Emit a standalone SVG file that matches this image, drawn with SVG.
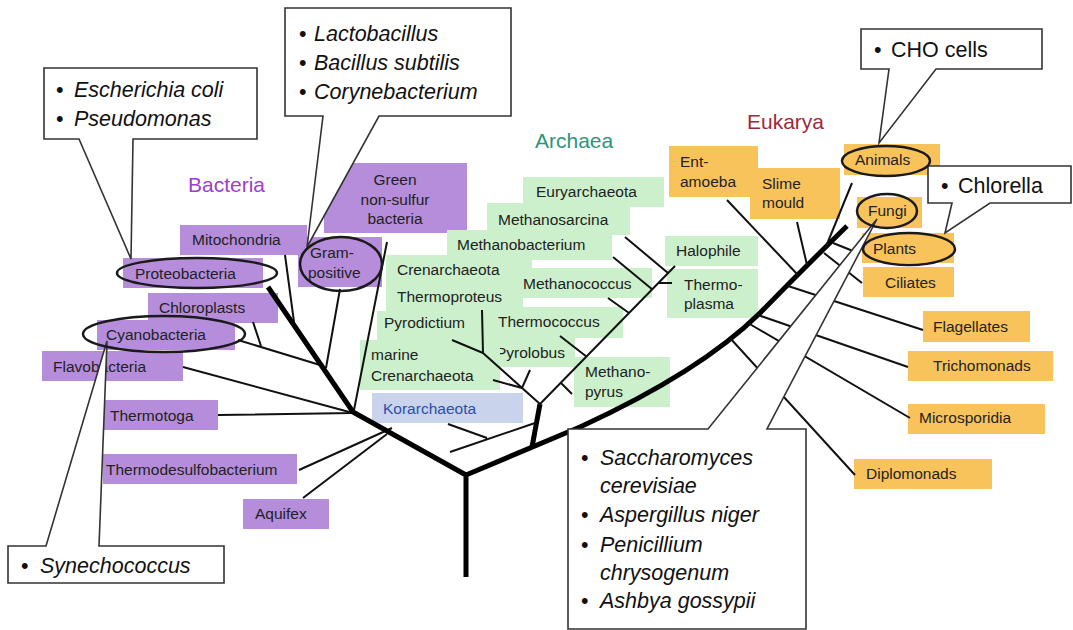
<svg xmlns="http://www.w3.org/2000/svg" width="1073" height="630" viewBox="0 0 1073 630">
<style>
.pb{fill:#B58DDB}
.gb{fill:#CCF0CC}
.ob{fill:#F9C35C}
.kb{fill:#C9D3EC}
.lb{font-family:"Liberation Sans",Arial,sans-serif;font-size:15.5px;fill:#222}
.kt{font-family:"Liberation Sans",Arial,sans-serif;font-size:15.5px;fill:#2E4FA8}
.ttl{font-family:"Liberation Sans",Arial,sans-serif;font-size:21px}
.ct{font-family:"Liberation Sans",Arial,sans-serif;font-size:21.5px;fill:#111}
.i{font-style:italic}
.tl{stroke:#111;stroke-width:2;fill:none}
.tk{stroke:#000;stroke-width:5;fill:none;stroke-linejoin:round}
.co{fill:#fff;stroke:#333;stroke-width:1.6}
.el{fill:none;stroke:#1a1a1a;stroke-width:2.5}
</style>
<rect width="1073" height="630" fill="#fff"/>

<!-- titles -->
<g id="titles">
<text class="ttl" x="188" y="192" fill="#A040C8">Bacteria</text>
<text class="ttl" x="535" y="148" fill="#2A957A">Archaea</text>
<text class="ttl" x="747" y="129" fill="#A0283A">Eukarya</text>
</g>

<!-- Bacteria nodes -->
<g id="n-green-nonsulfur"><rect class="pb" x="324" y="163" width="143" height="70"/>
<text class="lb" text-anchor="middle"><tspan x="395" y="185">Green</tspan><tspan x="395" y="205">non-sulfur</tspan><tspan x="395" y="224">bacteria</tspan></text></g>
<g id="n-mitochondria"><rect class="pb" x="180" y="225" width="127" height="30"/><text class="lb" x="192" y="245">Mitochondria</text></g>
<g id="n-gram-positive"><rect class="pb" x="298" y="237" width="84" height="50"/><text class="lb"><tspan x="310" y="258">Gram-</tspan><tspan x="308" y="278">positive</tspan></text></g>
<g id="n-proteobacteria"><rect class="pb" x="123" y="258" width="140" height="30"/><text class="lb" x="135" y="279">Proteobacteria</text></g>
<g id="n-chloroplasts"><rect class="pb" x="148" y="293" width="130" height="30"/><text class="lb" x="159" y="313">Chloroplasts</text></g>
<g id="n-cyanobacteria"><rect class="pb" x="97" y="320" width="138" height="30"/><text class="lb" x="106" y="340">Cyanobacteria</text></g>
<g id="n-flavobacteria"><rect class="pb" x="42" y="351" width="141" height="30"/><text class="lb" x="53" y="372">Flavobacteria</text></g>
<g id="n-thermotoga"><rect class="pb" x="104" y="400" width="114" height="30"/><text class="lb" x="110" y="421">Thermotoga</text></g>
<g id="n-thermodesulfobacterium"><rect class="pb" x="103" y="454" width="194" height="30"/><text class="lb" x="106" y="475">Thermodesulfobacterium</text></g>
<g id="n-aquifex"><rect class="pb" x="243" y="499" width="86" height="30"/><text class="lb" x="255" y="519">Aquifex</text></g>

<!-- Archaea nodes -->
<g id="n-euryarchaeota"><rect class="gb" x="523" y="177" width="141" height="30"/><text class="lb" x="536" y="197">Euryarchaeota</text></g>
<g id="n-methanosarcina"><rect class="gb" x="487" y="203" width="143" height="32"/><text class="lb" x="498" y="225">Methanosarcina</text></g>
<g id="n-methanobacterium"><rect class="gb" x="447" y="230" width="165" height="30"/><text class="lb" x="457" y="250">Methanobacterium</text></g>
<g id="n-crenarchaeota"><rect class="gb" x="386" y="255" width="146" height="30"/><text class="lb" x="397" y="275">Crenarchaeota</text></g>
<g id="n-thermoproteus"><rect class="gb" x="386" y="284" width="137" height="28"/><text class="lb" x="397" y="302">Thermoproteus</text></g>
<g id="n-methanococcus"><rect class="gb" x="522" y="268" width="130" height="30"/><text class="lb" x="523" y="289">Methanococcus</text></g>
<g id="n-pyrodictium"><rect class="gb" x="377" y="311" width="113" height="31"/><text class="lb" x="384" y="328">Pyrodictium</text></g>
<g id="n-thermococcus"><rect class="gb" x="489" y="307" width="134" height="31"/><text class="lb" x="498" y="327">Thermococcus</text></g>
<g id="n-pyrolobus"><rect class="gb" x="487" y="337" width="88" height="30"/><text class="lb" x="496" y="358">Pyrolobus</text></g>
<g id="n-marine-crenarchaeota"><rect class="gb" x="360" y="340" width="140" height="50"/><text class="lb"><tspan x="371" y="360">marine</tspan><tspan x="371" y="381">Crenarchaeota</tspan></text></g>
<g id="n-methanopyrus"><rect class="gb" x="574" y="357" width="96" height="50"/><text class="lb"><tspan x="585" y="377">Methano-</tspan><tspan x="585" y="397">pyrus</tspan></text></g>
<g id="n-halophile"><rect class="gb" x="665" y="236" width="93" height="30"/><text class="lb" x="676" y="256">Halophile</text></g>
<g id="n-thermoplasma"><rect class="gb" x="667" y="269" width="91" height="49"/><text class="lb"><tspan x="684" y="290">Thermo-</tspan><tspan x="684" y="309">plasma</tspan></text></g>
<g id="n-korarchaeota"><rect class="kb" x="372" y="393" width="151" height="30"/><text class="kt" x="383" y="414">Korarchaeota</text></g>

<!-- Eukarya nodes -->
<g id="n-entamoeba"><rect class="ob" x="669" y="146" width="89" height="51"/><text class="lb"><tspan x="680" y="167">Ent-</tspan><tspan x="680" y="187">amoeba</tspan></text></g>
<g id="n-slime-mould"><rect class="ob" x="750" y="168" width="90" height="51"/><text class="lb"><tspan x="762" y="189">Slime</tspan><tspan x="762" y="208">mould</tspan></text></g>
<g id="n-animals"><rect class="ob" x="844" y="144" width="96" height="31"/><text class="lb" x="855" y="165">Animals</text></g>
<g id="n-fungi"><rect class="ob" x="857" y="197" width="65" height="31"/><text class="lb" x="868" y="216">Fungi</text></g>
<g id="n-plants"><rect class="ob" x="862" y="233" width="92" height="30"/><text class="lb" x="873" y="254">Plants</text></g>
<g id="n-ciliates"><rect class="ob" x="863" y="267" width="91" height="30"/><text class="lb" x="885" y="288">Ciliates</text></g>
<g id="n-flagellates"><rect class="ob" x="923" y="311" width="107" height="31"/><text class="lb" x="933" y="332">Flagellates</text></g>
<g id="n-trichomonads"><rect class="ob" x="908" y="351" width="145" height="30"/><text class="lb" x="933" y="371">Trichomonads</text></g>
<g id="n-microsporidia"><rect class="ob" x="908" y="404" width="137" height="30"/><text class="lb" x="919" y="423">Microsporidia</text></g>
<g id="n-diplomonads"><rect class="ob" x="854" y="459" width="138" height="30"/><text class="lb" x="866" y="479">Diplomonads</text></g>

<!-- connectors (tree) -->
<g id="connectors">
<path class="tl" d="M218,415 L353,413 M183,367 L353,413 M238,340 L320,365 M253,322 L261,346 M285,255 L294,322 M340,289 L326,368 M387,242 L354,410 M299,470 L392,428 M303,498 L387,434"/>
<path class="tk" d="M466,577 L466,475 L353,412 L268,287"/>
<path class="tk" d="M466,475 L580,427 Q700,372 760,313 Q800,272 847,226"/>
<path class="tk" d="M532,447 L540,404"/>
<path class="tl" d="M540,404 L483,353 M522,388 L530,370 M522,388 L493,380 M483,353 L482,310 M483,353 L452,340 M540,404 L675,266 M561,383 L572,394 M587,357 L560,336 M629,313 L608,298 M653,290 L613,257 M658,283 L672,283 M668,273 L625,237 M535,423 L450,452 M487,438 L448,424"/>
<path class="tl" d="M727,200 L798,275 M797,222 L807,265 M852,183 L825,249 M833,243 L858,253 M824,253 L862,283 M788,286 L923,330 M758,315 L908,367 M748,323 L910,418 M730,338 L855,475"/>
</g>

<!-- callouts -->
<g id="callout-ecoli"><path class="co" d="M44,68 H257 V139 H133 L131,259 L79,139 H44 Z"/>
<text class="ct"><tspan x="56" y="97">•</tspan><tspan class="i" x="74" y="97">Escherichia coli</tspan><tspan x="56" y="126">•</tspan><tspan class="i" x="74" y="126">Pseudomonas</tspan></text></g>
<g id="callout-lactobacillus"><path class="co" d="M285,8 H511 V116 H379 L307,247 L323,116 H285 Z"/>
<text class="ct"><tspan x="299" y="41">•</tspan><tspan class="i" x="314" y="41">Lactobacillus</tspan><tspan x="299" y="70">•</tspan><tspan class="i" x="314" y="70">Bacillus subtilis</tspan><tspan x="299" y="99">•</tspan><tspan class="i" x="314" y="99">Corynebacterium</tspan></text></g>
<g id="callout-cho"><path class="co" d="M861,29 H1042 V69 H936 L879,143 L889,69 H861 Z"/>
<text class="ct"><tspan x="874" y="57">•</tspan><tspan x="891" y="57">CHO cells</tspan></text></g>
<g id="callout-chlorella"><path class="co" d="M928,166 H1071 V203 H990 L945,233 L952,203 H928 Z"/>
<text class="ct"><tspan x="941" y="193">•</tspan><tspan x="958" y="193">Chlorella</tspan></text></g>
<g id="callout-synechococcus"><path class="co" d="M8,546 H46 L107,341 L99,546 H224 V583 H8 Z"/>
<text class="ct"><tspan x="21" y="573">•</tspan><tspan class="i" x="40" y="573">Synechococcus</tspan></text></g>
<g id="callout-fungi"><path class="co" d="M568,429 H708 L877,219 L767,429 H806 V629 H568 Z"/>
<text class="ct"><tspan x="581" y="465">•</tspan><tspan class="i" x="600" y="465">Saccharomyces</tspan><tspan class="i" x="600" y="493">cerevisiae</tspan><tspan x="581" y="522">•</tspan><tspan class="i" x="600" y="522">Aspergillus niger</tspan><tspan x="581" y="552">•</tspan><tspan class="i" x="600" y="552">Penicillium</tspan><tspan class="i" x="600" y="580">chrysogenum</tspan><tspan x="581" y="608">•</tspan><tspan class="i" x="600" y="608">Ashbya gossypii</tspan></text></g>

<!-- highlight ellipses -->
<g id="highlights">
<ellipse class="el" cx="197" cy="273" rx="80" ry="15"/>
<ellipse class="el" cx="341" cy="264" rx="41" ry="27"/>
<ellipse class="el" cx="164" cy="334" rx="81" ry="18"/>
<ellipse class="el" cx="886" cy="161" rx="44" ry="15"/>
<ellipse class="el" cx="887" cy="211" rx="30" ry="17"/>
<ellipse class="el" cx="909" cy="249" rx="46" ry="16"/>
</g>
</svg>
